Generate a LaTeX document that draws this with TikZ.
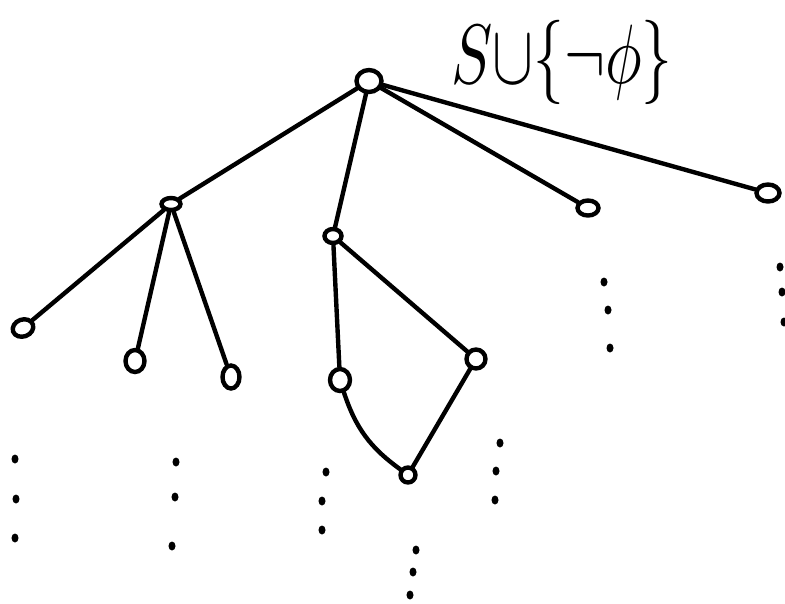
\documentclass[tikz,border=0pt]{standalone}
\usepackage{amsmath,amssymb}
\usepackage{tikz}
\usetikzlibrary{shapes.geometric}

\begin{document}
\begin{tikzpicture}[
    x=0.02cm, y=-0.02cm,
    vtx/.style={ellipse, draw=black, line width=2.5pt, inner sep=0pt,
                minimum width=0.38cm, minimum height=0.32cm},
    dotm/.style={ellipse, fill=black, inner sep=0pt,
                 minimum width=0.14cm, minimum height=0.18cm},
    link/.style={line width=2.5pt, line cap=round}
]
\useasboundingbox (0,0) rectangle (785,603);

\node[anchor=base west, inner sep=0pt, xscale=3.5, yscale=4.8] (lbl) at (450,83) {$S{\cup}\{\neg\phi\}$};

\node[vtx, minimum width=0.5cm, minimum height=0.44cm] (root) at (369,81) {};
\node[vtx, minimum width=0.38cm, minimum height=0.24cm] (a) at (171,204) {};
\node[vtx, minimum width=0.34cm, minimum height=0.28cm] (b) at (333,236) {};
\node[vtx, minimum width=0.42cm, minimum height=0.30cm] (c) at (588,208) {};
\node[vtx, minimum width=0.46cm, minimum height=0.34cm] (d) at (768,193) {};
\node[vtx, minimum width=0.42cm, minimum height=0.34cm, rotate=20] (a1) at (23,328) {};
\node[vtx, minimum width=0.38cm, minimum height=0.44cm] (a2) at (135,361) {};
\node[vtx, minimum width=0.34cm, minimum height=0.46cm] (a3) at (231,377) {};
\node[vtx, minimum width=0.40cm, minimum height=0.44cm] (b1) at (340,380) {};
\node[vtx, minimum width=0.38cm, minimum height=0.38cm] (b2) at (476,359) {};
\node[vtx, minimum width=0.30cm, minimum height=0.30cm] (e) at (408,475) {};

\draw[link] (root) -- (a);
\draw[link] (root) -- (b);
\draw[link] (root) -- (c);
\draw[link] (root) -- (d);
\draw[link] (a) -- (a1);
\draw[link] (a) -- (a2);
\draw[link] (a) -- (a3);
\draw[link] (b) -- (b1);
\draw[link] (b) -- (b2);
\draw[link] (b1) to[bend right=18] (e);
\draw[link] (b2) -- (e);

% vertical dots below the open branches
\foreach \x/\y [count=\i] in {604/282, 608/310, 610/348,
                              780/267, 782/292, 784/322,
                              15/459, 16/499, 15/538,
                              176/462, 175/497, 172/546,
                              326/472, 322/501, 322/530,
                              500/443, 496/471, 495/500,
                              416/550, 413/572, 410/595}
  \node[dotm] (dt\i) at (\x,\y) {};

\end{tikzpicture}
\end{document}
